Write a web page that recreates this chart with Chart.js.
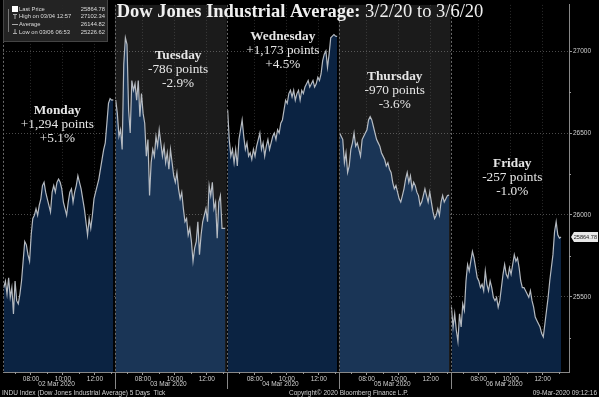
<!DOCTYPE html>
<html>
<head>
<meta charset="utf-8">
<script src="https://cdn.jsdelivr.net/npm/chart.js@4.4.0/dist/chart.umd.min.js"></script>
<style>
  body { margin: 0; background: #000; }
  canvas { display: block; }
</style>
</head>
<body>
<canvas id="dow-chart" width="599" height="397"></canvas>
<script>
// day labels and annotations
const dayDates = ['02 Mar 2020', '03 Mar 2020', '04 Mar 2020', '05 Mar 2020', '06 Mar 2020'];
const dayNames = ['Monday', 'Tuesday', 'Wednesday', 'Thursday', 'Friday'];
const dayPoints = ['+1,294 points', '-786 points', '+1,173 points', '-970 points', '-257 points'];
const dayPercents = ['+5.1%', '-2.9%', '+4.5%', '-3.6%', '-1.0%'];

// x ticks (local time) and y ticks
const tickHours = [8, 10, 12];
const tickLabels = ['08:00', '10:00', '12:00'];
const yTicks = [25500, 26000, 26500, 27000];

// prices, evenly spaced through each session
const monday = [25556, 25596, 25516, 25616, 25496, 25556, 25395, 25596, 25476, 25456, 25516, 25596, 25717, 25837, 25817, 25757, 25717, 25877, 25978, 25998, 26038, 25998, 26058, 26098, 26179, 26199, 26139, 26098, 26058, 26018, 26139, 26179, 26139, 26199, 26219, 26199, 26159, 26078, 26038, 25998, 26078, 26139, 26159, 26078, 26139, 26179, 26239, 26199, 26159, 26098, 26038, 25958, 25877, 25978, 25918, 25998, 26098, 26139, 26179, 26219, 26279, 26339, 26399, 26440, 26560, 26681, 26711, 26701, 26703];
const tuesday = [26701, 26620, 26480, 26520, 26400, 26922, 27082, 27042, 26641, 26500, 26821, 26761, 26801, 26701, 26821, 26600, 26741, 26620, 26560, 26359, 26460, 26118, 26319, 26400, 26359, 26480, 26420, 26520, 26440, 26359, 26420, 26319, 26380, 26279, 26400, 26319, 26239, 26199, 26259, 26159, 26098, 26138, 26038, 25958, 25978, 25877, 25918, 25837, 25717, 25797, 25837, 25958, 25757, 25877, 25958, 25998, 26038, 25958, 26179, 26118, 26199, 26038, 26078, 25857, 26078, 26118, 25918, 25918, 25917];
const wednesday = [26641, 26460, 26359, 26400, 26319, 26400, 26299, 26460, 26520, 26580, 26480, 26400, 26440, 26359, 26380, 26339, 26400, 26359, 26420, 26460, 26500, 26400, 26440, 26359, 26420, 26460, 26400, 26440, 26480, 26500, 26460, 26520, 26500, 26560, 26580, 26641, 26701, 26681, 26741, 26761, 26721, 26761, 26701, 26741, 26761, 26701, 26761, 26741, 26781, 26801, 26821, 26781, 26801, 26821, 26781, 26801, 26841, 26821, 26861, 26942, 26982, 27002, 26902, 26982, 27082, 27092, 27102, 27092, 27091];
const thursday = [26500, 26480, 26460, 26319, 26380, 26259, 26299, 26400, 26440, 26500, 26420, 26440, 26400, 26359, 26460, 26480, 26500, 26520, 26580, 26600, 26580, 26540, 26500, 26460, 26440, 26420, 26380, 26359, 26339, 26299, 26319, 26279, 26259, 26199, 26159, 26179, 26139, 26098, 26078, 26118, 26159, 26219, 26259, 26199, 26239, 26159, 26199, 26179, 26139, 26118, 26058, 26078, 26118, 26159, 26118, 26078, 26139, 26078, 26018, 25978, 25998, 26038, 25998, 26078, 26118, 26078, 26098, 26118, 26121];
const friday = [25436, 25315, 25396, 25295, 25227, 25396, 25315, 25456, 25416, 25596, 25697, 25657, 25717, 25777, 25737, 25677, 25616, 25596, 25556, 25576, 25536, 25657, 25576, 25536, 25596, 25556, 25496, 25476, 25496, 25436, 25476, 25556, 25637, 25697, 25637, 25616, 25677, 25637, 25697, 25757, 25717, 25737, 25677, 25596, 25556, 25556, 25536, 25516, 25496, 25536, 25476, 25436, 25376, 25355, 25335, 25315, 25275, 25255, 25335, 25416, 25496, 25596, 25677, 25757, 25898, 25958, 25878, 25858, 25865];

const legendNames = ['Last Price', 'High on 03/04 12:57', 'Average', 'Low on 03/06 06:53'];
const legendValues = ['25864.78', '27102.34', '26144.82', '25226.62'];
const lastPrice = 25864.78;

const DAY_LEN = 7;       // hours per day slot on the axis
const OPEN_HOUR = 6.25;  // axis hour at the left edge of each slot

const days = [monday, tuesday, wednesday, thursday, friday];
const darkFill = '#0b2342';
const lightFill = '#1a3556';

const datasets = days.map(function(values, d) {
  return {
    data: values.map(function(v, i) {
      return {x: d * DAY_LEN + 0.05 + i / (values.length - 1) * (DAY_LEN - 0.15), y: v};
    }),
    borderColor: 'rgba(200,204,210,0.9)',
    borderWidth: 1.2,
    pointRadius: 0,
    tension: 0,
    fill: 'start',
    backgroundColor: d % 2 ? lightFill : darkFill
  };
});

const serif = "'Liberation Serif', 'DejaVu Serif', serif";
const sans = "'Liberation Sans', Arial, sans-serif";

//panel backgrounds behind everything
const panelPlugin = {
  id: 'panels',
  beforeDraw(chart) {
    const {ctx, chartArea, scales: {x}} = chart;
    ctx.save();
    ctx.fillStyle = '#000';
    ctx.fillRect(0, 0, chart.width, chart.height);
    days.forEach(function(_, d) {
      const x0 = x.getPixelForValue(d * DAY_LEN);
      const x1 = x.getPixelForValue((d + 1) * DAY_LEN);
      ctx.fillStyle = d % 2 ? '#1b1b1b' : '#000';
      ctx.fillRect(x0, chartArea.top, x1 - x0, chartArea.bottom - chartArea.top);
    });
    ctx.restore();
  }
};

//texts, separators, legend box, price tag
const overlayPlugin = {
  id: 'overlay',
  afterDraw(chart) {
    const {ctx, chartArea, scales: {x, y}} = chart;
    ctx.save();

    // day separators
    days.forEach(function(_, d) {
      const px = Math.round(x.getPixelForValue(d * DAY_LEN)) + 0.5;
      ctx.strokeStyle = '#6a6a6a';
      ctx.lineWidth = 1;
      ctx.setLineDash([2, 2]);
      ctx.beginPath();
      ctx.moveTo(px, chartArea.top);
      ctx.lineTo(px, chartArea.bottom);
      ctx.stroke();
      if (d > 0) {
        ctx.setLineDash([]);
        ctx.strokeStyle = '#888';
        ctx.beginPath();
        ctx.moveTo(px, chartArea.bottom);
        ctx.lineTo(px, chartArea.bottom + 17);
        ctx.stroke();
      }
    });
    ctx.setLineDash([]);

    // minor ticks
    ctx.strokeStyle = '#999';
    days.forEach(function(_, d) {
      [7, 9, 11, 13].forEach(function(h) {
        const px = Math.round(x.getPixelForValue(d * DAY_LEN + h - OPEN_HOUR)) + 0.5;
        ctx.beginPath();
        ctx.moveTo(px, chartArea.bottom);
        ctx.lineTo(px, chartArea.bottom + 2);
        ctx.stroke();
      });
    });
    [25250, 25750, 26250, 26750].forEach(function(v) {
      const py = Math.round(y.getPixelForValue(v)) + 0.5;
      ctx.beginPath();
      ctx.moveTo(chartArea.right, py);
      ctx.lineTo(chartArea.right + 2, py);
      ctx.stroke();
    });

    // date labels
    ctx.fillStyle = '#d0d0d0';
    ctx.font = '6.5px ' + sans;
    ctx.textAlign = 'center';
    ctx.textBaseline = 'middle';
    dayDates.forEach(function(label, d) {
      ctx.fillText(label, x.getPixelForValue(d * DAY_LEN + 3.35), chartArea.bottom + 12);
    });

    // footer
    const fy = chart.height - 4;
    ctx.textAlign = 'left';
    ctx.fillText('INDU Index (Dow Jones Industrial Average) 5 Days  Tick', 2, fy);
    ctx.fillText('Copyright\u00a9 2020 Bloomberg Finance L.P.', 289, fy);
    ctx.textAlign = 'right';
    ctx.fillText('09-Mar-2020 09:12:16', chart.width - 2, fy);

    // day annotations
    const annX = [3.4, 3.95, 3.5, 3.5, 3.85];
    const annY = [26640, 26975, 27090, 26843, 26313];
    ctx.textAlign = 'center';
    ctx.fillStyle = '#e6e6e6';
    days.forEach(function(_, d) {
      const px = x.getPixelForValue(d * DAY_LEN + annX[d]);
      const py = y.getPixelForValue(annY[d]);
      ctx.font = 'bold 13.3px ' + serif;
      ctx.fillText(dayNames[d], px, py);
      ctx.font = '13.3px ' + serif;
      ctx.fillText(dayPoints[d], px, py + 14);
      ctx.fillText(dayPercents[d], px, py + 28);
    });

    // title
    const boldPart = 'Dow Jones Industrial Average:';
    const restPart = ' 3/2/20 to 3/6/20';
    ctx.font = 'bold 18.5px ' + serif;
    const w1 = ctx.measureText(boldPart).width;
    ctx.font = '18.5px ' + serif;
    const w2 = ctx.measureText(restPart).width;
    const tx = 300 - (w1 + w2) / 2;
    ctx.textAlign = 'left';
    ctx.fillStyle = '#f0f0f0';
    ctx.font = 'bold 18.5px ' + serif;
    ctx.fillText(boldPart, tx, 12);
    ctx.font = '18.5px ' + serif;
    ctx.fillText(restPart, tx + w1, 12);

    // legend box
    ctx.fillStyle = 'rgba(38,38,38,0.92)';
    ctx.fillRect(3, 0, 104, 42);
    ctx.strokeStyle = '#444';
    ctx.strokeRect(3.5, -0.5, 104, 42);
    ctx.strokeStyle = '#777';
    ctx.beginPath();
    ctx.moveTo(8.5, 9);
    ctx.lineTo(8.5, 32);
    ctx.stroke();
    ctx.fillStyle = '#fff';
    ctx.fillRect(12, 6, 6, 6);
    ctx.strokeStyle = '#aaa';
    ctx.beginPath();
    ctx.moveTo(13, 14.5); ctx.lineTo(17, 14.5);
    ctx.moveTo(15, 14.5); ctx.lineTo(15, 19);
    ctx.moveTo(12, 24.5); ctx.lineTo(18, 24.5);
    ctx.moveTo(15, 29); ctx.lineTo(15, 33.5);
    ctx.moveTo(13, 33.5); ctx.lineTo(17, 33.5);
    ctx.stroke();
    ctx.font = '5.8px ' + sans;
    ctx.fillStyle = '#dcdcdc';
    legendNames.forEach(function(name, i) {
      const ly = 9 + i * 7.8;
      ctx.textAlign = 'left';
      ctx.fillText(name, 19, ly);
      ctx.textAlign = 'right';
      ctx.fillText(legendValues[i], 105, ly);
    });

    // last price tag
    const ty = Math.round(y.getPixelForValue(lastPrice));
    const tl = chartArea.right + 2;
    ctx.fillStyle = '#e8e8e8';
    ctx.beginPath();
    ctx.moveTo(tl, ty);
    ctx.lineTo(tl + 3, ty - 5);
    ctx.lineTo(chart.width - 1, ty - 5);
    ctx.lineTo(chart.width - 1, ty + 5);
    ctx.lineTo(tl + 3, ty + 5);
    ctx.closePath();
    ctx.fill();
    ctx.fillStyle = '#222';
    ctx.font = '5.6px ' + sans;
    ctx.textAlign = 'right';
    ctx.fillText(lastPrice.toFixed(2), chart.width - 2, ty + 0.5);

    ctx.restore();
  }
};

new Chart(document.getElementById('dow-chart'), {
  type: 'line',
  data: { datasets: datasets },
  plugins: [panelPlugin, overlayPlugin],
  options: {
    responsive: false,
    animation: false,
    devicePixelRatio: 1,
    layout: { padding: { left: 3, top: 0, right: 0, bottom: 0 } },
    plugins: {
      legend: { display: false },
      tooltip: { enabled: false },
      title: { display: false }
    },
    scales: {
      x: {
        type: 'linear',
        min: 0,
        max: 35.4,
        z: 1,
        afterBuildTicks: function(scale) {
          const ticks = [];
          dayDates.forEach(function(_, d) {
            tickHours.forEach(function(h) {
              ticks.push({value: d * DAY_LEN + h - OPEN_HOUR});
            });
          });
          scale.ticks = ticks;
        },
        afterFit: function(scale) { scale.height = 25; },
        ticks: {
          autoSkip: false,
          maxRotation: 0,
          padding: 0,
          color: '#d0d0d0',
          font: { size: 6.5, family: sans },
          callback: function(value, index) { return tickLabels[index % tickLabels.length]; }
        },
        grid: { color: 'rgba(120,120,120,0.35)', tickLength: 3, tickColor: '#999' },
        border: { display: true, color: '#888', dash: [1, 2] }
      },
      y: {
        position: 'right',
        min: 25040,
        max: 27283,
        z: 1,
        afterBuildTicks: function(scale) {
          scale.ticks = yTicks.map(function(v) { return {value: v}; });
        },
        afterFit: function(scale) { scale.width = 30; },
        ticks: {
          padding: 1,
          color: '#d0d0d0',
          font: { size: 6.5, family: sans },
          callback: function(value) { return String(value); }
        },
        grid: { color: 'rgba(150,150,150,0.5)', tickLength: 3, tickColor: '#999' },
        border: { display: true, color: '#888', dash: [1, 2] }
      }
    }
  }
});
</script>
</body>
</html>
